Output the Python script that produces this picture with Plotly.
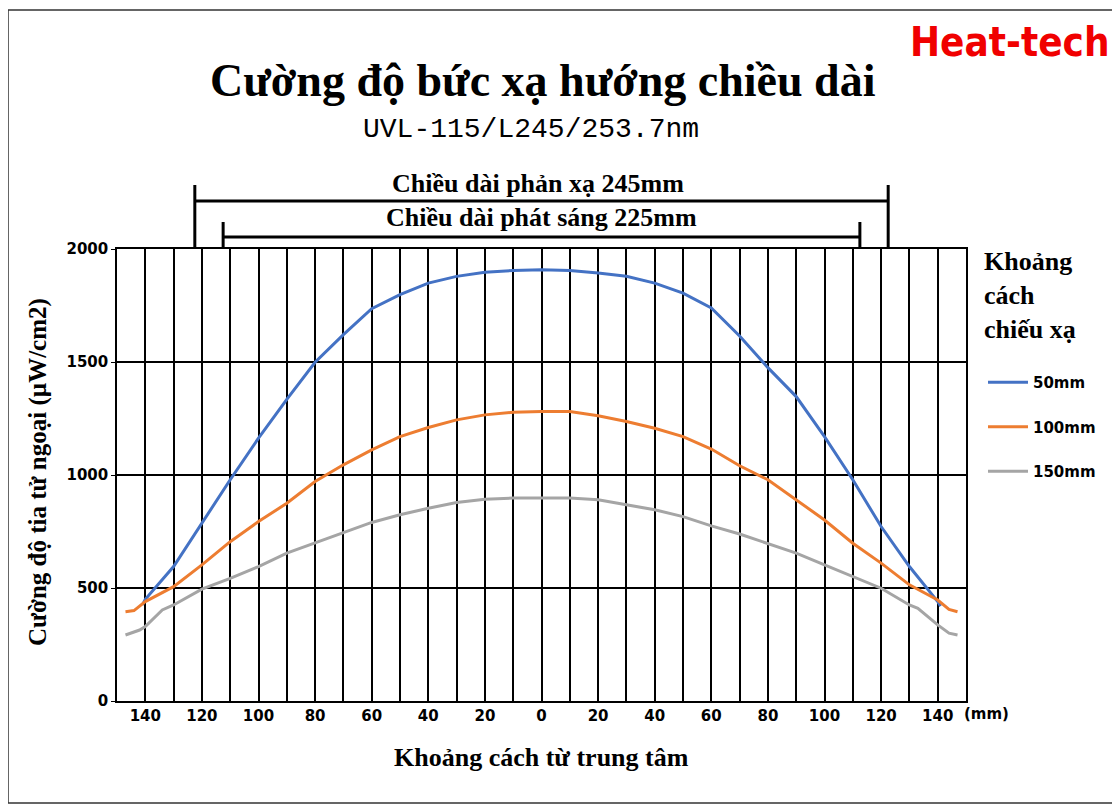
import plotly.graph_objects as go

# ---------------- data ----------------
x_50 = [-141, -140, -130, -120, -110, -100, -90, -80, -70, -60, -50, -40, -30, -20, -10, 0,
        10, 20, 30, 40, 50, 60, 70, 80, 90, 100, 110, 120, 130, 140, 141]
y_50 = [425, 450, 595, 787, 979, 1163, 1335, 1499, 1621, 1736, 1798, 1849, 1879, 1897, 1905, 1908,
        1905, 1894, 1879, 1849, 1805, 1739, 1615, 1475, 1347, 1170, 979, 772, 595, 440, 420]

x_100 = [-147, -144, -140, -130, -120, -110, -100, -90, -80, -70, -60, -50, -40, -30, -20, -10, 0,
         10, 20, 30, 40, 50, 60, 70, 80, 90, 100, 110, 120, 130, 140, 144, 147]
y_100 = [395, 400, 440, 506, 602, 705, 794, 875, 971, 1045, 1111, 1170, 1210, 1244, 1266, 1278, 1281,
         1281, 1262, 1237, 1207, 1170, 1115, 1041, 979, 890, 801, 698, 610, 514, 447, 405, 395]

x_150 = [-147, -142, -140, -134, -130, -120, -110, -100, -90, -80, -70, -60, -50, -40, -30, -20, -10, 0,
         10, 20, 30, 40, 50, 60, 70, 80, 90, 100, 110, 120, 130, 133, 140, 144, 147]
y_150 = [292, 314, 329, 403, 425, 495, 543, 595, 654, 698, 745, 790, 824, 853, 878, 893, 898, 898,
         898, 890, 868, 846, 816, 775, 739, 698, 654, 602, 550, 499, 425, 410, 337, 300, 292]

series_names = ["50mm", "100mm", "150mm"]
series_colors = ["#4472C4", "#ED7D31", "#A5A5A5"]

x_tickvals = [-140, -120, -100, -80, -60, -40, -20, 0, 20, 40, 60, 80, 100, 120, 140]
x_ticktext = [str(abs(v)) for v in x_tickvals]

reflector_len = 245
emit_len = 225

# ---------------- layout helpers ----------------
OFF = 8                      # page body margin
W, H = 1120 - OFF, 805 - OFF
L, R, T, B = 117, 966, 249, 701  # plot area box in window pixels


def px_x(px):
    return (px - L) / (R - L)


def px_y(py):
    return (B - py) / (B - T)


SERIF = "Liberation Serif, Times New Roman, serif"
SANS = "DejaVu Sans, Liberation Sans, sans-serif"

fig = go.Figure()
for xs, ys, name, col in zip([x_50, x_100, x_150], [y_50, y_100, y_150], series_names, series_colors):
    fig.add_trace(go.Scatter(x=xs, y=ys, mode="lines", name=name, legendgroup=name,
                             line=dict(color=col, width=3)))

fig.update_layout(
    width=W, height=H,
    margin=dict(l=L - OFF, r=W - (R - OFF), t=T - OFF, b=H - (B - OFF), autoexpand=False),
    paper_bgcolor="white", plot_bgcolor="white",
    showlegend=True,
    legend=dict(x=px_x(983), y=px_y(366), xanchor="left", yanchor="top",
                font=dict(family=SANS, size=15, color="black", weight="bold"),
                tracegroupgap=22, itemwidth=40, bgcolor="rgba(0,0,0,0)"),
    xaxis=dict(range=[-150, 150], tickvals=x_tickvals, ticktext=x_ticktext,
               showgrid=True, gridcolor="black", gridwidth=1.5,
               minor=dict(dtick=10, tick0=0, showgrid=True, gridcolor="black", gridwidth=1.5),
               showline=True, linecolor="black", linewidth=1.5, mirror=True,
               ticks="", tickfont=dict(family=SANS, size=15, color="black", weight="bold"),
               zeroline=False, fixedrange=True),
    yaxis=dict(range=[0, 2000], dtick=500, showgrid=True, gridcolor="black", gridwidth=1.5,
               showline=True, linecolor="black", linewidth=1.5, mirror=True,
               ticks="outside", ticklen=4, tickcolor="black",
               tickfont=dict(family=SANS, size=15, color="black", weight="bold"),
               zeroline=False, fixedrange=True),
)

ann = []
# Title
ann.append(dict(text="<b>Cường độ bức xạ hướng chiều dài</b>", x=px_x(543), y=px_y(80),
                font=dict(family=SERIF, size=46, color="black")))
ann.append(dict(text="UVL-115/L245/253.7nm", x=px_x(531), y=px_y(129),
                font=dict(family="Liberation Mono, DejaVu Sans Mono, monospace", size=28, color="black")))
ann.append(dict(text="<b>Heat-tech</b>", x=px_x(1010), y=px_y(42),
                font=dict(family="DejaVu Sans Condensed, Liberation Sans, sans-serif", size=40, color="#F00000")))
# bracket labels
ann.append(dict(text="<b>Chiều dài phản xạ 245mm</b>", x=px_x(538), y=px_y(183),
                font=dict(family=SERIF, size=26, color="black")))
ann.append(dict(text="<b>Chiều dài phát sáng 225mm</b>", x=px_x(541), y=px_y(218),
                font=dict(family=SERIF, size=26, color="black")))
# axis titles
ann.append(dict(text="<b>Cường độ tia tử ngoại (µW/cm2)</b>", x=px_x(38), y=px_y(472), textangle=-90,
                font=dict(family=SERIF, size=25, color="black")))
ann.append(dict(text="<b>Khoảng cách từ trung tâm</b>", x=px_x(541), y=px_y(757),
                font=dict(family=SERIF, size=26, color="black")))
ann.append(dict(text="<b>(mm)</b>", x=px_x(986), y=px_y(714),
                font=dict(family=SANS, size=15, color="black")))
# legend title
ann.append(dict(text="<b>Khoảng<br>cách<br>chiếu xạ</b>", x=px_x(982), y=px_y(245), xanchor="left", yanchor="top",
                align="left", font=dict(family=SERIF, size=26, color="black")))

for a in ann:
    a.setdefault("xanchor", "center")
    a.setdefault("yanchor", "middle")
    fig.add_annotation(xref="paper", yref="paper", showarrow=False, **a)

shapes = []
# outer frame
shapes.append(dict(type="rect", xref="paper", yref="paper", x0=px_x(8), x1=px_x(1113), y0=px_y(803), y1=px_y(10),
                   line=dict(color="#333333", width=1.5)))
# reflector bracket (245mm)
h1 = reflector_len / 2
shapes.append(dict(type="line", xref="x", yref="paper", x0=-h1, x1=h1, y0=px_y(201), y1=px_y(201),
                   line=dict(color="black", width=3)))
for xv in (-h1, h1):
    shapes.append(dict(type="line", xref="x", yref="paper", x0=xv, x1=xv, y0=px_y(185), y1=px_y(249),
                       line=dict(color="black", width=3)))
# emitting bracket (225mm)
h2 = emit_len / 2
shapes.append(dict(type="line", xref="x", yref="paper", x0=-h2, x1=h2, y0=px_y(237), y1=px_y(237),
                   line=dict(color="black", width=3)))
for xv in (-h2, h2):
    shapes.append(dict(type="line", xref="x", yref="paper", x0=xv, x1=xv, y0=px_y(222), y1=px_y(249),
                       line=dict(color="black", width=3)))
fig.update_layout(shapes=shapes)

fig.write_html("out.html")
